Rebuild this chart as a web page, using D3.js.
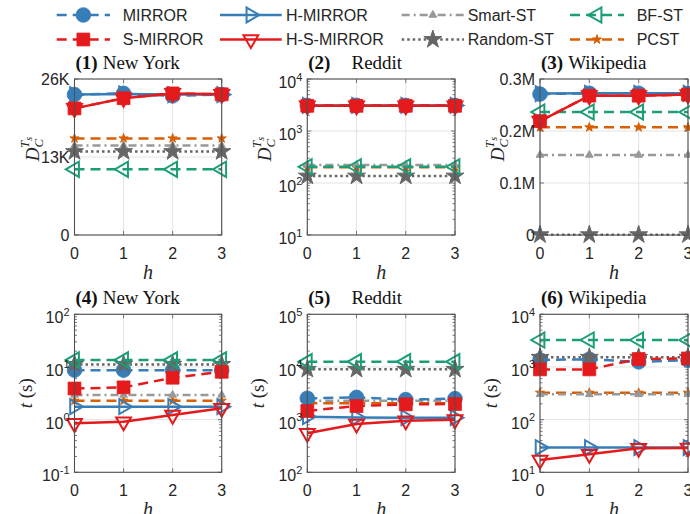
<!DOCTYPE html>
<html><head><meta charset="utf-8">
<script src="https://cdn.jsdelivr.net/npm/d3@7"></script>
<style>body{margin:0;background:#fff}</style></head>
<body><svg id="c" width="690" height="514"></svg>
<script>
// ---------- DATA ----------
const hValues = [0, 1, 2, 3];
const panelNumbers = ["(1)", "(2)", "(3)", "(4)", "(5)", "(6)"];
const panelNames = ["New York", "Reddit", "Wikipedia", "New York", "Reddit", "Wikipedia"];
const panelScaleTypes = ["linear", "log", "linear", "log", "log", "log"];
const panelDomains = [[0, 26000], [10, 10000], [0, 300000], [0.1, 100], [100, 100000], [10, 10000]];
const yTickValues = [[0, 13000, 26000], [10, 100, 1000, 10000], [0, 100000, 200000, 300000],
                     [0.1, 1, 10, 100], [100, 1000, 10000, 100000], [10, 100, 1000, 10000]];
const yTickLabels = [["0", "13K", "26K"], ["1", "2", "3", "4"], ["0", "0.1M", "0.2M", "0.3M"],
                     ["-1", "0", "1", "2"], ["2", "3", "4", "5"], ["1", "2", "3", "4"]];
const seriesNames = ["MIRROR", "H-MIRROR", "Smart-ST", "BF-ST", "S-MIRROR", "H-S-MIRROR", "Random-ST", "PCST"];

// values: one row per panel (1..6), one value per h
const MIRROR = [[23400, 23600, 23200, 23400], [3100, 3100, 3100, 3100], [271000, 272500, 272500, 272000],
                [8.7, 8.7, 8.7, 8.7], [2540, 2640, 2400, 2500], [1355, 1400, 1250, 1350]];
const H_MIRROR = [[23400, 23500, 23400, 23400], [3100, 3100, 3100, 3100], [272000, 272500, 272500, 272500],
                  [1.76, 1.76, 1.76, 1.76], [1140, 1100, 1090, 1090], [29.5, 29.5, 29.5, 29.5]];
const S_MIRROR = [[21100, 22800, 23600, 23450], [3050, 3050, 3050, 3050], [219000, 268000, 268000, 270000],
                  [3.9, 4.1, 6.25, 8.1], [1460, 1815, 1950, 1980], [900, 900, 1415, 1450]];
const H_S_MIRROR = [[21100, 22800, 23600, 23450], [3050, 3050, 3050, 3050], [219000, 268000, 268000, 270000],
                    [0.85, 0.91, 1.22, 1.64], [550, 825, 955, 1000], [17.1, 22, 28.6, 29]];
const SMART_ST = [[14900, 14900, 14900, 14900], [222, 222, 222, 222], [153800, 153800, 153800, 153800],
                  [2.94, 2.94, 2.94, 2.94], [2290, 2290, 2290, 2290], [302, 302, 302, 302]];
const RANDOM_ST = [[13900, 13900, 13900, 13900], [136, 136, 136, 136], [500, 500, 500, 500],
                   [11.2, 11.2, 11.2, 11.2], [9030, 9030, 9030, 9030], [1525, 1525, 1525, 1525]];
const BF_ST = [[10950, 10950, 10950, 10950], [205, 205, 205, 205], [236500, 236500, 236500, 236500],
               [13.6, 13.6, 13.6, 13.6], [12600, 12600, 12600, 12600], [3250, 3250, 3250, 3250]];
const PCST = [[16100, 16100, 16100, 16100], [200, 200, 200, 200], [207000, 207000, 207000, 207000],
              [2.29, 2.29, 2.29, 2.29], [2040, 2040, 2040, 2040], [325, 325, 325, 325]];

// ---------- STYLE ----------
const C_BLUE = "#377eb8", C_RED = "#e41a1c", C_LGRAY = "#999999", C_DGRAY = "#666666",
      C_GREEN = "#1b9e77", C_ORANGE = "#d95f02";
const styles = {
  "MIRROR":     {vals: MIRROR,     color: C_BLUE,   dash: "10,6",      sym: d3.symbolCircle,   size: 170, rot: 0,   fill: true},
  "H-MIRROR":   {vals: H_MIRROR,   color: C_BLUE,   dash: null,        sym: d3.symbolTriangle, size: 95,  rot: 90,  fill: false},
  "Smart-ST":   {vals: SMART_ST,   color: C_LGRAY,  dash: "8,4,2,4",   sym: d3.symbolTriangle, size: 26,  rot: 0,   fill: true},
  "BF-ST":      {vals: BF_ST,      color: C_GREEN,  dash: "10,6",      sym: d3.symbolTriangle, size: 100, rot: -90, fill: false},
  "S-MIRROR":   {vals: S_MIRROR,   color: C_RED,    dash: "10,6",      sym: d3.symbolSquare,   size: 165, rot: 0,   fill: true},
  "H-S-MIRROR": {vals: H_S_MIRROR, color: C_RED,    dash: null,        sym: d3.symbolTriangle, size: 95,  rot: 180, fill: false},
  "Random-ST":  {vals: RANDOM_ST,  color: C_DGRAY,  dash: "2.5,3",     sym: d3.symbolStar,     size: 100, rot: 0,   fill: true},
  "PCST":       {vals: PCST,       color: C_ORANGE, dash: "10,6",      sym: d3.symbolStar,     size: 26,  rot: 0,   fill: true}
};
const drawOrder = ["PCST", "Smart-ST", "MIRROR", "H-MIRROR", "Random-ST", "BF-ST", "S-MIRROR", "H-S-MIRROR"];

const cols = [{l: 74.5, r: 221.7}, {l: 307.3, r: 455}, {l: 540, r: 688}];
const rows = [{t: 79, b: 235}, {t: 314.3, b: 472.3}];
const titleGap = [5, 21, 5, 5, 21, 5];
const SANS = "'Liberation Sans', Arial, Helvetica, sans-serif";
const SERIF = "'Liberation Serif', 'Times New Roman', serif";
const TXT = "#262626";

const svg = d3.select("#c");

function marker(g, st, x, y) {
  g.append("path")
    .attr("d", d3.symbol().type(st.sym).size(st.size)())
    .attr("transform", `translate(${x},${y}) rotate(${st.rot})`)
    .attr("fill", st.fill ? st.color : "none")
    .attr("stroke", st.color)
    .attr("stroke-width", st.fill ? (st.sym === d3.symbolStar || st.size < 40 ? 1 : 0.8) : 2)
    .attr("stroke-linejoin", "miter");
}

for (let p = 0; p < 6; p++) {
  const col = cols[p % 3], row = rows[Math.floor(p / 3)];
  const x = d3.scaleLinear().domain([0, 3]).range([col.l, col.r]);
  const isLog = panelScaleTypes[p] === "log";
  const y = (isLog ? d3.scaleLog() : d3.scaleLinear()).domain(panelDomains[p]).range([row.b, row.t]);
  const g = svg.append("g");

  // grid
  g.selectAll(".gx").data(hValues).join("line")
    .attr("x1", d => x(d)).attr("x2", d => x(d)).attr("y1", row.t).attr("y2", row.b)
    .attr("stroke", "#e3e3e3").attr("stroke-width", 1);
  g.selectAll(".gy").data(yTickValues[p]).join("line")
    .attr("x1", col.l).attr("x2", col.r).attr("y1", d => y(d)).attr("y2", d => y(d))
    .attr("stroke", "#e3e3e3").attr("stroke-width", 1);

  // minor ticks on log axes
  if (isLog) {
    const minors = [];
    const [lo, hi] = panelDomains[p];
    for (let dec = lo; dec < hi; dec *= 10) for (let k = 2; k <= 9; k++) minors.push(dec * k);
    g.selectAll(".mn").data(minors).join("path")
      .attr("d", d => `M${col.l},${y(d)}h2.5M${col.r},${y(d)}h-2.5`)
      .attr("stroke", "#555").attr("stroke-width", 0.8);
  }
  // major ticks (inward, box)
  g.selectAll(".my").data(yTickValues[p]).join("path")
    .attr("d", d => `M${col.l},${y(d)}h4M${col.r},${y(d)}h-4`)
    .attr("stroke", "#555").attr("stroke-width", 0.8);
  g.selectAll(".mx").data(hValues).join("path")
    .attr("d", d => `M${x(d)},${row.b}v-4M${x(d)},${row.t}v4`)
    .attr("stroke", "#555").attr("stroke-width", 0.8);

  // series
  drawOrder.forEach(name => {
    const st = styles[name];
    const vals = st.vals[p];
    const line = d3.line().x((d, i) => x(hValues[i])).y(d => y(d));
    g.append("path").attr("d", line(vals))
      .attr("fill", "none").attr("stroke", st.color).attr("stroke-width", 2.5)
      .attr("stroke-dasharray", st.dash);
    vals.forEach((v, i) => marker(g, st, x(hValues[i]), y(v)));
  });

  // box
  g.append("rect").attr("x", col.l).attr("y", row.t).attr("width", col.r - col.l).attr("height", row.b - row.t)
    .attr("fill", "none").attr("stroke", "#505050").attr("stroke-width", 1.1);

  // x tick labels
  g.selectAll(".xl").data(hValues).join("text")
    .attr("x", d => x(d)).attr("y", row.b + 24).attr("text-anchor", "middle")
    .attr("font-family", SANS).attr("font-size", 16).attr("fill", TXT).text(d => d);

  // y tick labels
  yTickValues[p].forEach((v, i) => {
    const t = g.append("text").attr("x", col.l - 5).attr("text-anchor", "end")
      .attr("font-family", SANS).attr("font-size", 16).attr("fill", TXT);
    if (isLog) {
      t.attr("y", y(v) + 9);
      t.append("tspan").text("10");
      t.append("tspan").attr("font-size", 11).attr("dy", -7.5).text(yTickLabels[p][i]);
    } else {
      t.attr("y", y(v) + 6).text(yTickLabels[p][i]);
    }
  });

  // title
  const tt = g.append("text").attr("x", col.l + 1).attr("y", row.t - 10)
    .attr("font-family", SERIF).attr("font-size", 19).attr("fill", "#111");
  tt.append("tspan").attr("font-weight", "bold").text(panelNumbers[p]);
  tt.append("tspan").attr("dx", titleGap[p]).text(panelNames[p]);

  // x label
  g.append("text").attr("x", (col.l + col.r) / 2).attr("y", row.b + 44).attr("text-anchor", "middle")
    .attr("font-family", SERIF).attr("font-style", "italic").attr("font-size", 20).attr("fill", TXT).text("h");

  // y label
  const cy = (row.t + row.b) / 2;
  if (p < 3) {
    const lx = col.l - 36, ly = cy - 8;
    const yl = g.append("text").attr("transform", `translate(${lx},${ly}) rotate(-90)`)
      .attr("text-anchor", "middle").attr("font-family", SERIF).attr("font-style", "italic").attr("fill", TXT);
    yl.append("tspan").attr("font-size", 19).text("D");
    yl.append("tspan").attr("font-size", 13).attr("dy", 4).text("C");
    yl.append("tspan").attr("font-size", 13).attr("dx", -9).attr("dy", -14).text("T");
    yl.append("tspan").attr("font-size", 10).attr("dy", 3).text("s");
  } else {
    const lx = col.l - 43, ly = cy;
    const yl = g.append("text").attr("transform", `translate(${lx},${ly}) rotate(-90)`)
      .attr("text-anchor", "middle").attr("font-family", SERIF).attr("font-size", 19).attr("fill", TXT);
    yl.append("tspan").attr("font-style", "italic").text("t");
    yl.append("tspan").text(" (s)");
  }
}

// ---------- LEGEND ----------
const legendCols = [{x1: 56.7, x2: 110, tx: 122.7}, {x1: 220, x2: 281.7, tx: 286}, {x1: 401.7, x2: 464, tx: 467.7}, {x1: 570, x2: 624, tx: 636.7}];
const legendRows = [15, 39.5];
const lg = svg.append("g");
seriesNames.forEach((name, i) => {
  const st = styles[name];
  const c = legendCols[i % 4], yy = legendRows[Math.floor(i / 4)];
  lg.append("line").attr("x1", c.x1).attr("x2", c.x2).attr("y1", yy).attr("y2", yy)
    .attr("stroke", st.color).attr("stroke-width", 2.5).attr("stroke-dasharray", st.dash);
  marker(lg, st, (c.x1 + c.x2) / 2, yy);
  lg.append("text").attr("x", c.tx).attr("y", yy + 5.5).attr("font-family", SANS).attr("font-size", 16)
    .attr("fill", TXT).text(name);
});
</script></body></html>
